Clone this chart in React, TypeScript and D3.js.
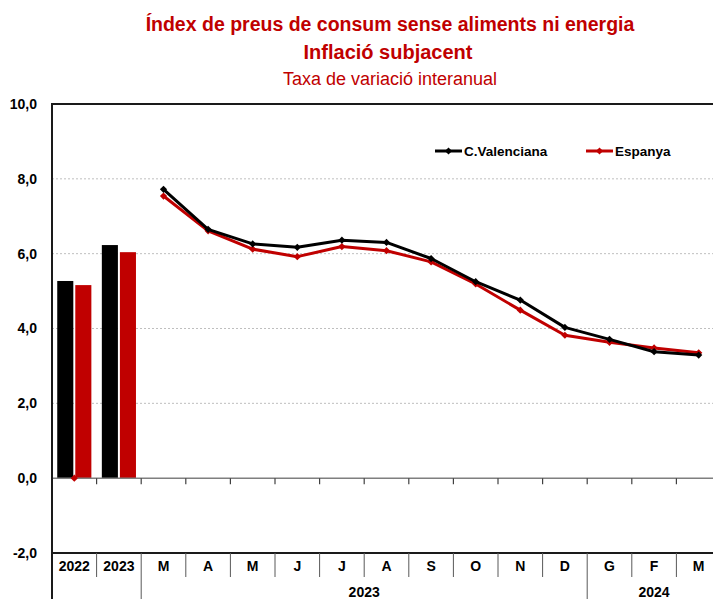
import { useRef, useEffect } from "react";
import * as d3 from "d3";

const categories = ["2022", "2023", "M", "A", "M", "J", "J", "A", "S", "O", "N", "D", "G", "F", "M"];
const groups = [
  { label: "", from: 0, to: 2 },
  { label: "2023", from: 2, to: 12 },
  { label: "2024", from: 12, to: 15 },
];

// annual averages (bars)
const annualCV = [5.27, 6.23];
const annualES = [5.16, 6.04];

// monthly year-on-year rates (lines), Mar 2023 .. Mar 2024
const monthlyCV = [7.72, 6.65, 6.26, 6.17, 6.36, 6.30, 5.87, 5.25, 4.76, 4.03, 3.71, 3.38, 3.29];
const monthlyES = [7.54, 6.61, 6.12, 5.92, 6.19, 6.08, 5.78, 5.19, 4.49, 3.82, 3.63, 3.48, 3.35];

const yTicks = [-2, 0, 2, 4, 6, 8, 10];

const RED = "#c00000";
const FONT = "'Liberation Sans', Arial, sans-serif";

export default function App() {
  const svgRef = useRef<SVGSVGElement>(null);

  useEffect(() => {
    if (!svgRef.current) return;
    const svg = d3.select(svgRef.current);
    svg.selectAll("*").remove();

    const width = 713;
    const height = 599;
    const left = 52;
    const right = 721;
    const top = 104;
    const bottom = 553;

    const x = d3.scaleBand<number>()
      .domain(d3.range(categories.length))
      .range([left, right])
      .padding(0);
    const bw = x.bandwidth();
    const inner = d3.scaleBand<string>()
      .domain(["cv", "es"])
      .range([0, bw])
      .paddingInner(0.11)
      .paddingOuter(0.29);

    const y = d3.scaleLinear().domain([-2, 10]).range([bottom, top]);
    const fmt = d3.formatLocale({ decimal: ",", thousands: ".", grouping: [3], currency: ["", "€"], minus: "-" }).format(".1f");

    // titles
    const t = svg.append("g").attr("fill", RED).attr("font-family", FONT).attr("text-anchor", "middle");
    t.append("text").attr("x", 390).attr("y", 31).attr("font-size", 19.5).attr("font-weight", "bold")
      .text("Índex de preus de consum sense aliments ni energia");
    t.append("text").attr("x", 388).attr("y", 59).attr("font-size", 20).attr("font-weight", "bold")
      .text("Inflació subjacent");
    t.append("text").attr("x", 390).attr("y", 85).attr("font-size", 18)
      .text("Taxa de variació interanual");

    // gridlines
    svg.append("g").selectAll("line")
      .data(yTicks.filter((d) => d > 0 && d < 10))
      .join("line")
      .attr("x1", left).attr("x2", right)
      .attr("y1", (d) => y(d)).attr("y2", (d) => y(d))
      .attr("stroke", "#bfbfbf").attr("stroke-width", 1).attr("stroke-dasharray", "2,2");

    // y labels
    svg.append("g").selectAll("text")
      .data(yTicks)
      .join("text")
      .attr("x", 37).attr("y", (d) => y(d))
      .attr("dy", "0.35em")
      .attr("text-anchor", "end")
      .attr("font-family", FONT).attr("font-size", 14).attr("font-weight", "bold")
      .attr("fill", "#000")
      .text((d) => fmt(d));

    // bars
    const bars = svg.append("g");
    annualCV.forEach((v, i) => {
      bars.append("rect")
        .attr("x", x(i)! + inner("cv")!).attr("width", inner.bandwidth())
        .attr("y", y(v)).attr("height", y(0) - y(v)).attr("fill", "#000");
    });
    annualES.forEach((v, i) => {
      bars.append("rect")
        .attr("x", x(i)! + inner("es")!).attr("width", inner.bandwidth())
        .attr("y", y(v)).attr("height", y(0) - y(v)).attr("fill", RED);
    });

    // zero axis with ticks
    svg.append("line")
      .attr("x1", left).attr("x2", right).attr("y1", y(0)).attr("y2", y(0))
      .attr("stroke", "#7f7f7f").attr("stroke-width", 1.5);
    svg.append("g").selectAll("line")
      .data(d3.range(1, categories.length + 1))
      .join("line")
      .attr("x1", (i) => left + i * bw).attr("x2", (i) => left + i * bw)
      .attr("y1", y(0)).attr("y2", y(0) + 6)
      .attr("stroke", "#404040").attr("stroke-width", 1.2);

    // lines
    const cvPts = monthlyCV.map((v, i) => ({ i: i + 2, v }));
    const esPts = [{ i: 0, v: 0 }, ...monthlyES.map((v, i) => ({ i: i + 2, v }))];
    const cx = (i: number) => x(i)! + bw / 2;
    const line = d3.line<{ i: number; v: number }>().x((d) => cx(d.i)).y((d) => y(d.v));
    const marker = d3.symbol(d3.symbolSquare, 26);

    const series = [
      { pts: cvPts.filter((d) => d.i >= 2), all: cvPts, color: "#000" },
      { pts: esPts.filter((d) => d.i >= 2), all: esPts, color: RED },
    ];
    series.slice().reverse().forEach((s) => {
      svg.append("path").datum(s.pts)
        .attr("d", line).attr("fill", "none")
        .attr("stroke", s.color).attr("stroke-width", 3).attr("stroke-linejoin", "round");
      svg.append("g").selectAll("path")
        .data(s.all)
        .join("path")
        .attr("d", marker)
        .attr("transform", (d) => `translate(${cx(d.i)},${y(d.v)}) rotate(45)`)
        .attr("fill", s.color);
    });

    // legend
    const legend = [
      { label: "C.Valenciana", color: "#000", x: 435 },
      { label: "Espanya", color: RED, x: 586 },
    ];
    legend.forEach((l) => {
      const g = svg.append("g").attr("transform", `translate(${l.x},151)`);
      g.append("line").attr("x1", 0).attr("x2", 27).attr("stroke", l.color).attr("stroke-width", 3);
      g.append("path").attr("d", marker).attr("transform", "translate(13.5,0) rotate(45)").attr("fill", l.color);
      g.append("text").attr("x", 29).attr("dy", "0.35em")
        .attr("font-family", FONT).attr("font-size", 13.5).attr("font-weight", "bold").attr("fill", "#000")
        .text(l.label);
    });

    // frame
    svg.append("line").attr("x1", left).attr("x2", right).attr("y1", top).attr("y2", top)
      .attr("stroke", "#1a1a1a").attr("stroke-width", 2);
    svg.append("line").attr("x1", left).attr("x2", right).attr("y1", bottom).attr("y2", bottom)
      .attr("stroke", "#1a1a1a").attr("stroke-width", 2);
    svg.append("line").attr("x1", left).attr("x2", left).attr("y1", top - 1).attr("y2", height)
      .attr("stroke", "#1a1a1a").attr("stroke-width", 2);

    // category table
    const rowMid = 577;
    const fullBounds = new Set(groups.map((g) => g.from));
    svg.append("g").selectAll("line")
      .data(d3.range(1, categories.length))
      .join("line")
      .attr("x1", (i) => left + i * bw).attr("x2", (i) => left + i * bw)
      .attr("y1", bottom).attr("y2", (i) => (fullBounds.has(i) ? height : rowMid))
      .attr("stroke", "#595959").attr("stroke-width", 1);

    svg.append("g").selectAll("text")
      .data(categories)
      .join("text")
      .attr("x", (_, i) => cx(i)).attr("y", 566)
      .attr("dy", "0.35em").attr("text-anchor", "middle")
      .attr("font-family", FONT).attr("font-size", 14).attr("font-weight", "bold")
      .text((d) => d);

    svg.append("g").selectAll("text")
      .data(groups.filter((g) => g.label))
      .join("text")
      .attr("x", (g) => (left + g.from * bw + left + g.to * bw) / 2).attr("y", 592)
      .attr("dy", "0.35em").attr("text-anchor", "middle")
      .attr("font-family", FONT).attr("font-size", 14).attr("font-weight", "bold")
      .text((g) => g.label);

    svg.attr("width", width).attr("height", height);
  }, []);

  return (
    <div style={{ position: "absolute", left: 0, top: 0, width: 713, height: 599, overflow: "hidden", background: "#fff" }}>
      <svg ref={svgRef} style={{ display: "block" }} />
    </div>
  );
}
